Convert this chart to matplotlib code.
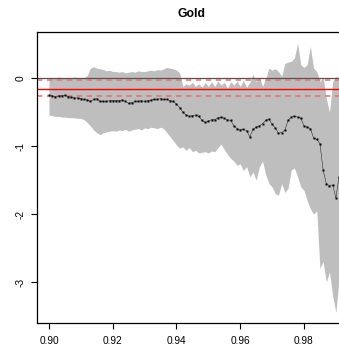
import matplotlib

matplotlib.use("Agg")
import matplotlib.pyplot as plt
import numpy as np

plt.rcParams["font.family"] = ["Liberation Sans", "DejaVu Sans"]

# threshold quantiles 0.900 .. 0.991 by 0.001
quantiles = np.round(np.arange(0.900, 0.9915, 0.001), 3)

shape_est = [
    -0.25, -0.26, -0.27, -0.26, -0.26, -0.25, -0.27, -0.28, -0.29, -0.29,
    -0.30, -0.31, -0.32, -0.34, -0.31, -0.30, -0.34, -0.34, -0.34, -0.33,
    -0.33, -0.33, -0.33, -0.32, -0.34, -0.37, -0.36, -0.34, -0.34, -0.33,
    -0.34, -0.33, -0.32, -0.31, -0.31, -0.30, -0.31, -0.31, -0.33, -0.34,
    -0.38, -0.43, -0.50, -0.54, -0.56, -0.55, -0.54, -0.56, -0.62, -0.65,
    -0.63, -0.61, -0.61, -0.58, -0.57, -0.59, -0.61, -0.62, -0.70, -0.74,
    -0.76, -0.75, -0.77, -0.86, -0.75, -0.72, -0.70, -0.67, -0.62, -0.60,
    -0.68, -0.73, -0.81, -0.80, -0.76, -0.62, -0.57, -0.56, -0.57, -0.59,
    -0.70, -0.72, -0.74, -0.88, -0.90, -0.96, -1.35, -1.55, -1.58, -1.57,
    -1.76, -1.45,
]

ci_upper = [
    0.00, 0.01, 0.01, 0.02, 0.01, 0.00, 0.01, 0.01, 0.02, 0.01,
    0.00, 0.01, 0.04, 0.15, 0.17, 0.15, 0.14, 0.13, 0.11, 0.12,
    0.10, 0.10, 0.09, 0.10, 0.08, 0.09, 0.10, 0.09, 0.11, 0.10,
    0.10, 0.11, 0.12, 0.11, 0.13, 0.12, 0.14, 0.16, 0.15, 0.14,
    0.12, 0.08, -0.12, -0.08, -0.10, -0.06, -0.12, -0.08, -0.13, -0.06,
    -0.12, -0.05, -0.12, -0.04, -0.10, -0.06, -0.14, -0.05, -0.10, -0.04,
    -0.12, -0.03, -0.13, -0.06, 0.06, -0.05, 0.02, -0.12, 0.00, 0.15,
    0.12, 0.14, 0.10, 0.03, 0.22, 0.24, 0.25, 0.30, 0.52, 0.20,
    0.16, 0.20, 0.47, 0.15, 0.10, -0.05, 0.02, -0.30, -0.50, -0.05,
    0.03, 0.00,
]

ci_lower = [
    -0.54, -0.55, -0.56, -0.56, -0.57, -0.57, -0.58, -0.58, -0.58, -0.59,
    -0.59, -0.61, -0.65, -0.70, -0.76, -0.80, -0.83, -0.80, -0.79, -0.78,
    -0.77, -0.78, -0.76, -0.77, -0.75, -0.78, -0.76, -0.75, -0.74, -0.76,
    -0.73, -0.74, -0.72, -0.73, -0.74, -0.72, -0.74, -0.80, -0.86, -0.92,
    -0.98, -1.03, -1.01, -1.06, -1.02, -1.08, -1.06, -1.10, -1.09, -1.08,
    -1.10, -1.07, -1.08, -1.02, -0.97, -1.05, -1.12, -1.18, -1.22, -1.28,
    -1.26, -1.36, -1.30, -1.45, -1.38, -1.50, -1.30, -1.22, -1.42, -1.55,
    -1.60, -1.70, -1.72, -1.55, -1.68, -1.62, -1.35, -1.32, -1.45, -1.60,
    -1.65, -1.80, -1.92, -2.00, -1.95, -2.80, -2.70, -3.00, -2.85, -3.20,
    -3.45, -2.95,
]

ref_est = -0.153
ref_band = [-0.256, -0.03]

fig = plt.figure(figsize=(3.39, 3.54), dpi=100)
ax = fig.add_axes([0.1091, 0.0884, 0.9145, 0.8212])

ax.fill_between(quantiles, ci_lower, ci_upper, color="#bebebe", lw=0)
ax.axhline(0, color="#555555", lw=0.9)
ax.axhline(ref_est, color="#ff0000", lw=1.0)
for v in ref_band:
    ax.axhline(v, color="#f06a6a", lw=1.1, ls=(0, (3.5, 3)))
ax.plot(quantiles, shape_est, color="black", lw=0.3, marker="s", ms=2.1, mec="none")

ax.set_xlim(0.89624, 0.99349)
ax.set_ylim(-3.599, 0.682)
ax.set_xticks([0.90, 0.92, 0.94, 0.96, 0.98])
ax.set_xticklabels(["0.90", "0.92", "0.94", "0.96", "0.98"])
ax.set_yticks([0, -1, -2, -3])
ax.set_yticklabels(["0", "-1", "-2", "-3"], rotation=90, va="center")
ax.tick_params(axis="both", length=4.5, width=0.8, labelsize=7.3, color="black")
ax.tick_params(axis="x", pad=5)
ax.tick_params(axis="y", pad=4)
ax.spines["right"].set_visible(False)
for s in ["left", "bottom", "top"]:
    ax.spines[s].set_linewidth(0.9)

fig.text(0.5 * (0.1091 + 0.1091 + 0.9145), 1 - 14 / 354, "Gold", ha="center", va="center",
         fontsize=8.8, fontweight="bold")

fig.savefig("out.png", dpi=100)
